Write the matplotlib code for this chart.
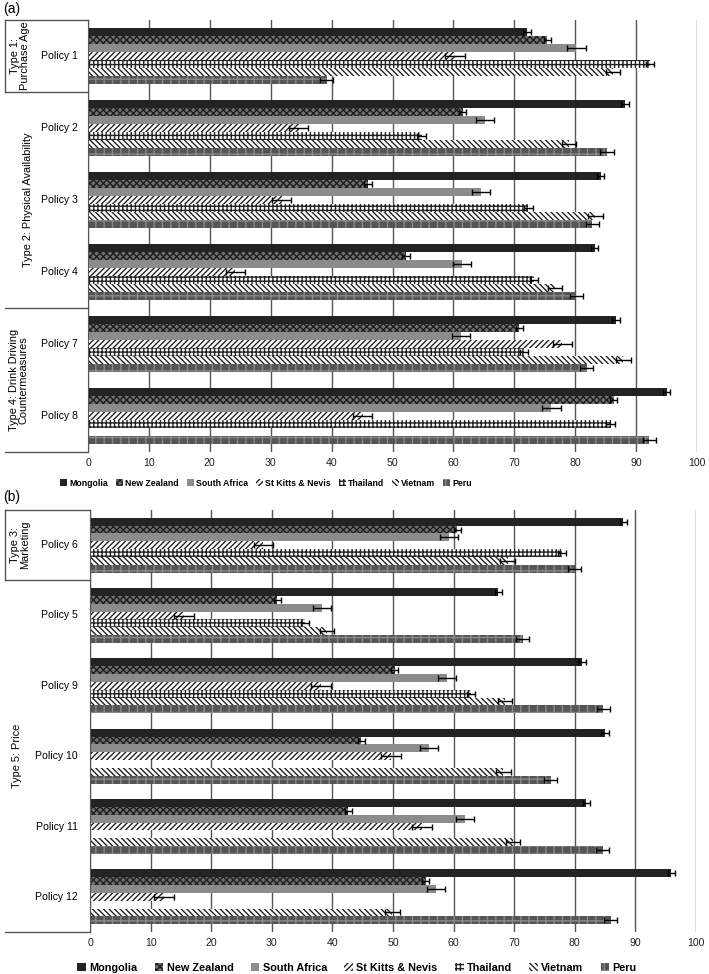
import numpy as np
import matplotlib.pyplot as plt
from matplotlib.transforms import blended_transform_factory
from matplotlib.patches import Patch

plt.rcParams['font.family'] = ['Liberation Sans', 'DejaVu Sans']
plt.rcParams['hatch.linewidth'] = 1.0

nan = np.nan

countries = ['Mongolia', 'New Zealand', 'South Africa', 'St Kitts & Nevis',
             'Thailand', 'Vietnam', 'Peru']

# --- panel (a) ---
policies_a = ['Policy 1', 'Policy 2', 'Policy 3', 'Policy 4', 'Policy 7', 'Policy 8']
mongolia_a = [72.1, 88.2, 84.2, 83.2, 86.7, 95.0]
nz_a = [75.4, 61.5, 46.0, 52.2, 70.8, 86.3]
sa_a = [80.2, 65.2, 64.5, 61.4, 61.3, 76.1]
skn_a = [60.3, 34.6, 31.8, 24.2, 77.9, 45.1]
thai_a = [92.3, 54.8, 72.3, 73.2, 71.6, 85.8]
viet_a = [86.2, 79.0, 83.3, 76.7, 87.9, nan]
peru_a = [39.2, 85.2, 82.8, 80.2, 81.9, 92.2]
groups_a = [('Type 1:\nPurchase Age', 0, 0), ('Type 2: Physical Availability', 1, 3),
            ('Type 4: Drink Driving\nCountermeasures', 4, 5)]

# --- panel (b) ---
policies_b = ['Policy 6', 'Policy 5', 'Policy 9', 'Policy 10', 'Policy 11', 'Policy 12']
mongolia_b = [88.0, 67.4, 81.2, 85.0, 81.9, 95.9]
nz_b = [60.6, 30.9, 50.3, 44.8, 42.6, 55.4]
sa_b = [59.3, 38.3, 58.9, 56.0, 61.9, 57.1]
skn_b = [28.6, 15.5, 38.1, 49.7, 54.8, 12.2]
thai_b = [77.9, 35.5, 62.9, nan, nan, nan]
viet_b = [68.9, 39.1, 68.5, 68.2, 69.8, 49.9]
peru_b = [80.0, 71.4, 84.7, 76.0, 84.6, 85.9]
groups_b = [('Type 3:\nMarketing', 0, 0), ('Type 5: Price', 1, 5)]

# half-width of the error bars per country
errs = [0.6, 0.6, 1.5, 1.6, 0.7, 1.2, 1.1]

# facecolor, hatch, hatch colour
styles = [('#232323', None, '#232323'),
          ('#707070', 'xxxxx', '#1e1e1e'),
          ('#8c8c8c', None, '#8c8c8c'),
          ('white', '//////', '#222222'),
          ('white', '++++', '#222222'),
          ('white', '\\\\\\\\\\\\', '#222222'),
          ('#555555', '++', '#8a8a8a')]

GRID = '#555555'
FS = 7.6


def panel(ax, policies, series, groups, left_px, width_px, label_x):
    y = np.arange(len(policies))
    h = 1 / 9
    for i, vals in enumerate(series):
        fc, hatch, ec = styles[i]
        pos = y - 3 * h + i * h
        ax.barh(pos, vals, height=h, color=fc, hatch=hatch, edgecolor=ec,
                linewidth=0, zorder=2)
        v = np.array(vals)
        ok = ~np.isnan(v)
        ax.errorbar(v[ok], pos[ok], xerr=errs[i], fmt='none', ecolor='black',
                    elinewidth=1, capsize=2, capthick=1, zorder=3)
    ax.set_xlim(0, 100)
    ax.set_ylim(len(policies) - 0.5, -0.5)
    ax.set_xticks(range(0, 101, 10))
    ax.set_yticks([])
    ax.xaxis.grid(True, color=GRID, lw=1)
    ax.set_axisbelow(True)
    for s in ['top', 'right', 'bottom']:
        ax.spines[s].set_visible(False)
    ax.spines['left'].set_color(GRID)
    ax.tick_params(axis='x', length=0, pad=4, labelsize=FS, labelcolor='#222')

    tr = blended_transform_factory(ax.transAxes, ax.transData)
    px = lambda p: (p - left_px) / width_px
    for k, name in enumerate(policies):
        ax.text(px(78), k, name, transform=tr, ha='right', va='center', fontsize=FS)
    x0 = px(5)
    edges = [-0.5] + [g[2] + 0.5 for g in groups]
    for e in edges:
        ax.plot([x0, 0], [e, e], color=GRID, lw=1, transform=tr, clip_on=False)
    ax.plot([x0, x0], [-0.5, groups[0][2] + 0.5], color=GRID, lw=1,
            transform=tr, clip_on=False)
    for (name, a, b), lx in zip(groups, label_x):
        ax.text(px(lx), (a + b) / 2, name, transform=tr, rotation=90, ha='center',
                va='center', fontsize=7.9, linespacing=1.0)


fig = plt.figure(figsize=(7.09, 9.74), dpi=100)
W, H = 709, 974
ax_a = fig.add_axes([88 / W, 1 - 452 / H, 609 / W, 432 / H])
ax_b = fig.add_axes([90 / W, 1 - 932 / H, 606 / W, 422 / H])

panel(ax_a, policies_a, [mongolia_a, nz_a, sa_a, skn_a, thai_a, viet_a, peru_a],
      groups_a, 88, 609, [20, 28, 19])
panel(ax_b, policies_b, [mongolia_b, nz_b, sa_b, skn_b, thai_b, viet_b, peru_b],
      groups_b, 90, 606, [20, 17])

handles = [Patch(facecolor=fc, hatch=hatch, edgecolor=ec, linewidth=0, label=c)
           for c, (fc, hatch, ec) in zip(countries, styles)]

fig.legend(handles=handles, loc='center', bbox_to_anchor=(266 / W, 1 - 483 / H),
           ncol=7, frameon=False, handlelength=0.8, handleheight=0.8,
           handletextpad=0.25, columnspacing=0.9, borderpad=0,
           prop={'weight': 'bold', 'size': 6.3})
fig.legend(handles=handles, loc='center', bbox_to_anchor=(357 / W, 1 - 968 / H),
           ncol=7, frameon=False, handlelength=0.8, handleheight=0.8,
           handletextpad=0.3, columnspacing=1.6, borderpad=0,
           prop={'weight': 'bold', 'size': 7.8})

fig.text(3 / W, 1 - 9 / H, '(a)', fontsize=10, va='center', ha='left')
fig.text(3 / W, 1 - 497 / H, '(b)', fontsize=10, va='center', ha='left')

fig.savefig('out.png', dpi=100)
